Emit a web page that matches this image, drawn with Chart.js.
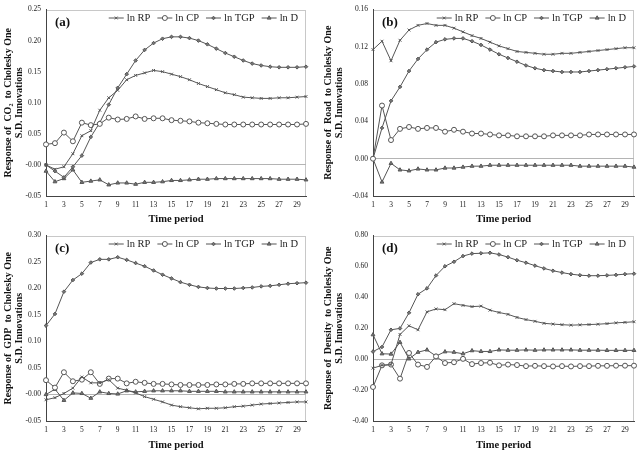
<!DOCTYPE html>
<html><head><meta charset="utf-8">
<script src="https://cdn.jsdelivr.net/npm/chart.js@4.4.1/dist/chart.umd.min.js"></script>
<style>
body{margin:0;background:#fff;width:640px;height:452px;overflow:hidden;position:relative}
canvas{position:absolute}
</style></head><body>
<canvas id="ca" width="320" height="226" style="left:0;top:0"></canvas>
<canvas id="cb" width="320" height="226" style="left:320px;top:0"></canvas>
<canvas id="cc" width="320" height="226" style="left:0;top:226px"></canvas>
<canvas id="cd" width="320" height="226" style="left:320px;top:226px"></canvas>
<script>
const periods = [1,2,3,4,5,6,7,8,9,10,11,12,13,14,15,16,17,18,19,20,21,22,23,24,25,26,27,28,29,30];
const seriesNames = ['ln RP','ln CP','ln TGP','ln D'];

// (a) Response of CO2
const co2_RP  = [0.000,-0.007,-0.003,0.018,0.047,0.055,0.088,0.108,0.120,0.137,0.144,0.148,0.152,0.150,0.146,0.142,0.137,0.131,0.126,0.121,0.116,0.113,0.109,0.108,0.107,0.107,0.108,0.108,0.109,0.110];
const co2_CP  = [0.033,0.035,0.052,0.038,0.068,0.064,0.066,0.076,0.073,0.074,0.078,0.074,0.075,0.075,0.072,0.071,0.070,0.068,0.067,0.066,0.065,0.065,0.065,0.065,0.065,0.065,0.065,0.065,0.065,0.066];
const co2_TGP = [0.000,-0.010,-0.020,-0.003,0.015,0.045,0.068,0.097,0.124,0.146,0.168,0.185,0.196,0.203,0.206,0.206,0.204,0.200,0.194,0.187,0.180,0.174,0.168,0.163,0.160,0.158,0.157,0.157,0.157,0.158];
const co2_D   = [-0.010,-0.027,-0.022,-0.008,-0.028,-0.026,-0.024,-0.032,-0.029,-0.029,-0.031,-0.028,-0.028,-0.027,-0.025,-0.025,-0.024,-0.023,-0.023,-0.022,-0.022,-0.022,-0.022,-0.022,-0.022,-0.022,-0.023,-0.023,-0.023,-0.024];

// (b) Response of Road
const road_RP  = [0.117,0.126,0.105,0.127,0.138,0.143,0.145,0.143,0.143,0.140,0.136,0.132,0.129,0.125,0.121,0.118,0.115,0.114,0.113,0.112,0.112,0.113,0.113,0.114,0.115,0.116,0.117,0.118,0.119,0.119];
const road_CP  = [0.000,0.057,0.020,0.032,0.034,0.032,0.033,0.033,0.029,0.031,0.029,0.027,0.027,0.026,0.025,0.025,0.024,0.024,0.024,0.024,0.025,0.025,0.025,0.025,0.026,0.026,0.026,0.026,0.026,0.026];
const road_TGP = [0.000,0.033,0.062,0.077,0.094,0.107,0.117,0.125,0.128,0.129,0.129,0.126,0.122,0.117,0.112,0.108,0.104,0.100,0.097,0.095,0.094,0.093,0.093,0.093,0.094,0.095,0.096,0.097,0.098,0.099];
const road_D   = [0.000,-0.025,-0.005,-0.012,-0.013,-0.011,-0.012,-0.012,-0.010,-0.010,-0.009,-0.008,-0.008,-0.007,-0.007,-0.007,-0.007,-0.007,-0.007,-0.007,-0.007,-0.007,-0.007,-0.008,-0.008,-0.008,-0.008,-0.008,-0.008,-0.009];

// (c) Response of GDP
const gdp_RP  = [-0.010,-0.006,0.002,0.012,0.033,0.022,0.022,0.028,0.012,0.008,0.003,-0.004,-0.009,-0.014,-0.020,-0.023,-0.025,-0.027,-0.026,-0.026,-0.025,-0.023,-0.022,-0.020,-0.018,-0.017,-0.016,-0.015,-0.014,-0.014];
const gdp_CP  = [0.027,0.013,0.042,0.025,0.028,0.042,0.020,0.030,0.030,0.021,0.024,0.022,0.020,0.020,0.019,0.018,0.018,0.018,0.018,0.019,0.019,0.020,0.020,0.021,0.021,0.021,0.021,0.021,0.021,0.021];
const gdp_TGP = [0.130,0.152,0.194,0.216,0.228,0.249,0.255,0.255,0.259,0.254,0.248,0.242,0.234,0.226,0.219,0.212,0.207,0.203,0.201,0.200,0.200,0.200,0.201,0.202,0.204,0.205,0.207,0.209,0.210,0.211];
const gdp_D   = [0.000,0.010,-0.011,0.003,0.002,-0.007,0.005,0.002,0.001,0.007,0.005,0.006,0.007,0.007,0.007,0.007,0.006,0.006,0.006,0.006,0.005,0.005,0.005,0.005,0.005,0.005,0.005,0.005,0.005,0.005];

// (d) Response of Density
const den_RP  = [-0.058,-0.040,-0.035,0.160,0.216,0.190,0.306,0.325,0.320,0.359,0.348,0.340,0.343,0.317,0.302,0.290,0.270,0.256,0.245,0.232,0.227,0.223,0.220,0.222,0.224,0.226,0.230,0.235,0.238,0.242];
const den_CP  = [-0.180,-0.040,-0.035,-0.126,0.040,-0.035,-0.050,0.018,-0.025,-0.020,0.002,-0.032,-0.025,-0.023,-0.040,-0.035,-0.038,-0.045,-0.043,-0.045,-0.047,-0.045,-0.047,-0.045,-0.045,-0.043,-0.043,-0.042,-0.042,-0.042];
const den_TGP = [0.049,0.079,0.190,0.199,0.300,0.420,0.458,0.541,0.601,0.630,0.667,0.683,0.685,0.688,0.677,0.660,0.640,0.624,0.605,0.587,0.572,0.560,0.550,0.543,0.540,0.540,0.542,0.545,0.550,0.553];
const den_D   = [0.158,0.035,0.033,0.109,0.002,0.045,0.060,0.020,0.048,0.045,0.035,0.055,0.050,0.050,0.060,0.058,0.058,0.060,0.058,0.060,0.060,0.060,0.060,0.058,0.058,0.058,0.057,0.057,0.057,0.057];

const SERIF = "'Liberation Serif','Times New Roman',serif";
Chart.defaults.font.family = SERIF;
Chart.defaults.color = '#222';

const LINE = '#555';
const styles = [
  {pointStyle:'crossRot', pointRadius:2, bg:LINE},
  {pointStyle:'circle', pointRadius:2.5, bg:'#fff'},
  {pointStyle:'rectRot', pointRadius:1.8, bg:'#777'},
  {pointStyle:'triangle', pointRadius:2.2, bg:'#777'}
];

const decor = {
  id:'decor',
  beforeDraw(chart){
    const {ctx, chartArea:a} = chart;
    ctx.save();
    ctx.strokeStyle = '#c8c8c8'; ctx.lineWidth = 1;
    ctx.strokeRect(Math.round(a.left)+0.5, Math.round(a.top)+0.5, Math.round(a.width)-1, Math.round(a.height)-1);
    ctx.restore();
  },
  afterDraw(chart){
    const {ctx, chartArea:a} = chart;
    const o = chart.options.plugins.decor;
    ctx.save();
    ctx.fillStyle = '#111';
    ctx.font = "bold 13px " + SERIF;
    ctx.textBaseline = 'middle';
    ctx.textAlign = 'left';
    ctx.fillText(o.label, a.left + 9, a.top + 13);
    // legend: line-marker-line symbol followed by text, right-aligned inside plot area
    const seg = 15, gapT = 3, gapI = 7;
    ctx.font = "10.5px " + SERIF;
    const dsets = chart.data.datasets;
    let total = 0;
    dsets.forEach((ds, i) => { total += seg + gapT + ctx.measureText(ds.label).width + (i < dsets.length - 1 ? gapI : 0); });
    let x = a.right - 8 - total;
    const cy = a.top + 8;
    dsets.forEach(ds => {
      ctx.strokeStyle = LINE; ctx.lineWidth = 1;
      ctx.beginPath(); ctx.moveTo(x, cy + 0.5); ctx.lineTo(x + seg, cy + 0.5); ctx.stroke();
      ctx.fillStyle = ds.pointBackgroundColor; ctx.strokeStyle = LINE;
      Chart.helpers.drawPoint(ctx, {pointStyle: ds.pointStyle, radius: ds.pointRadius, borderWidth: 1, rotation: 0}, x + seg/2, cy + 0.5);
      x += seg + gapT;
      ctx.fillStyle = '#222';
      ctx.fillText(ds.label, x, cy + 1);
      x += ctx.measureText(ds.label).width + gapI;
    });
    ctx.restore();
  }
};

function makePanel(id, label, title1, arrays, yMin, yMax, step, g){
  const datasets = arrays.map((arr, i) => ({
    label: seriesNames[i],
    data: arr,
    borderColor: LINE,
    borderWidth: 1,
    pointStyle: styles[i].pointStyle,
    pointRadius: styles[i].pointRadius,
    pointBackgroundColor: styles[i].bg,
    pointBorderColor: LINE,
    pointBorderWidth: 1,
    tension: 0,
    fill: false
  }));
  new Chart(document.getElementById(id), {
    type: 'line',
    data: {labels: periods.map(String), datasets},
    plugins: [decor],
    options: {
      responsive: false, animation: false, devicePixelRatio: 1,
      layout: {padding: {left: 0, right: 320 - g.right, top: g.top, bottom: 0}},
      scales: {
        x: {
          type: 'category', offset: false,
          grid: {display: false, drawTicks: false},
          border: {display: true, color: '#444', width: 1},
          ticks: {autoSkip: false, maxRotation: 0, padding: 5, font: {size: 7.5}, color: '#222',
                  callback: (v, i) => (i % 2 === 0 ? String(periods[i]) : '')},
          title: {display: true, text: 'Time period', font: {size: 10.5, weight: 'bold'}, color: '#111', padding: {top: 2, bottom: 0}},
          afterFit: s => { s.height = 226 - g.bottom; }
        },
        y: {
          min: yMin, max: yMax,
          grid: {drawTicks: false, color: c => (c.tick && Math.abs(c.tick.value) < 1e-9 ? '#b4b4b4' : 'rgba(0,0,0,0)')},
          border: {display: true, color: '#444', width: 1},
          ticks: {stepSize: step, padding: 5, font: {size: 7.5}, color: '#222', callback: v => Number(v).toFixed(2)},
          title: {display: true, text: [title1, 'S.D. Innovations'], font: {size: 10, weight: 'bold', lineHeight: 1.1}, color: '#111', padding: {top: 3, bottom: 0}},
          afterFit: s => { s.width = g.left; }
        }
      },
      plugins: {
        tooltip: {enabled: false},
        decor: {label},
        legend: {display: false}
      }
    }
  });
}

makePanel('ca', '(a)', 'Response of  CO\u2082  to Cholesky One', [co2_RP, co2_CP, co2_TGP, co2_D], -0.05, 0.25, 0.05, {left: 46, right: 306, top: 9, bottom: 196});
makePanel('cb', '(b)', 'Response of  Road  to Cholesky One', [road_RP, road_CP, road_TGP, road_D], -0.04, 0.16, 0.04, {left: 53, right: 314, top: 9, bottom: 196});
makePanel('cc', '(c)', 'Response of  GDP  to Cholesky One', [gdp_RP, gdp_CP, gdp_TGP, gdp_D], -0.05, 0.30, 0.05, {left: 46, right: 306, top: 8, bottom: 195});
makePanel('cd', '(d)', 'Response of  Density  to Cholesky One', [den_RP, den_CP, den_TGP, den_D], -0.40, 0.80, 0.20, {left: 53, right: 314, top: 8, bottom: 195});
</script>
</body></html>
